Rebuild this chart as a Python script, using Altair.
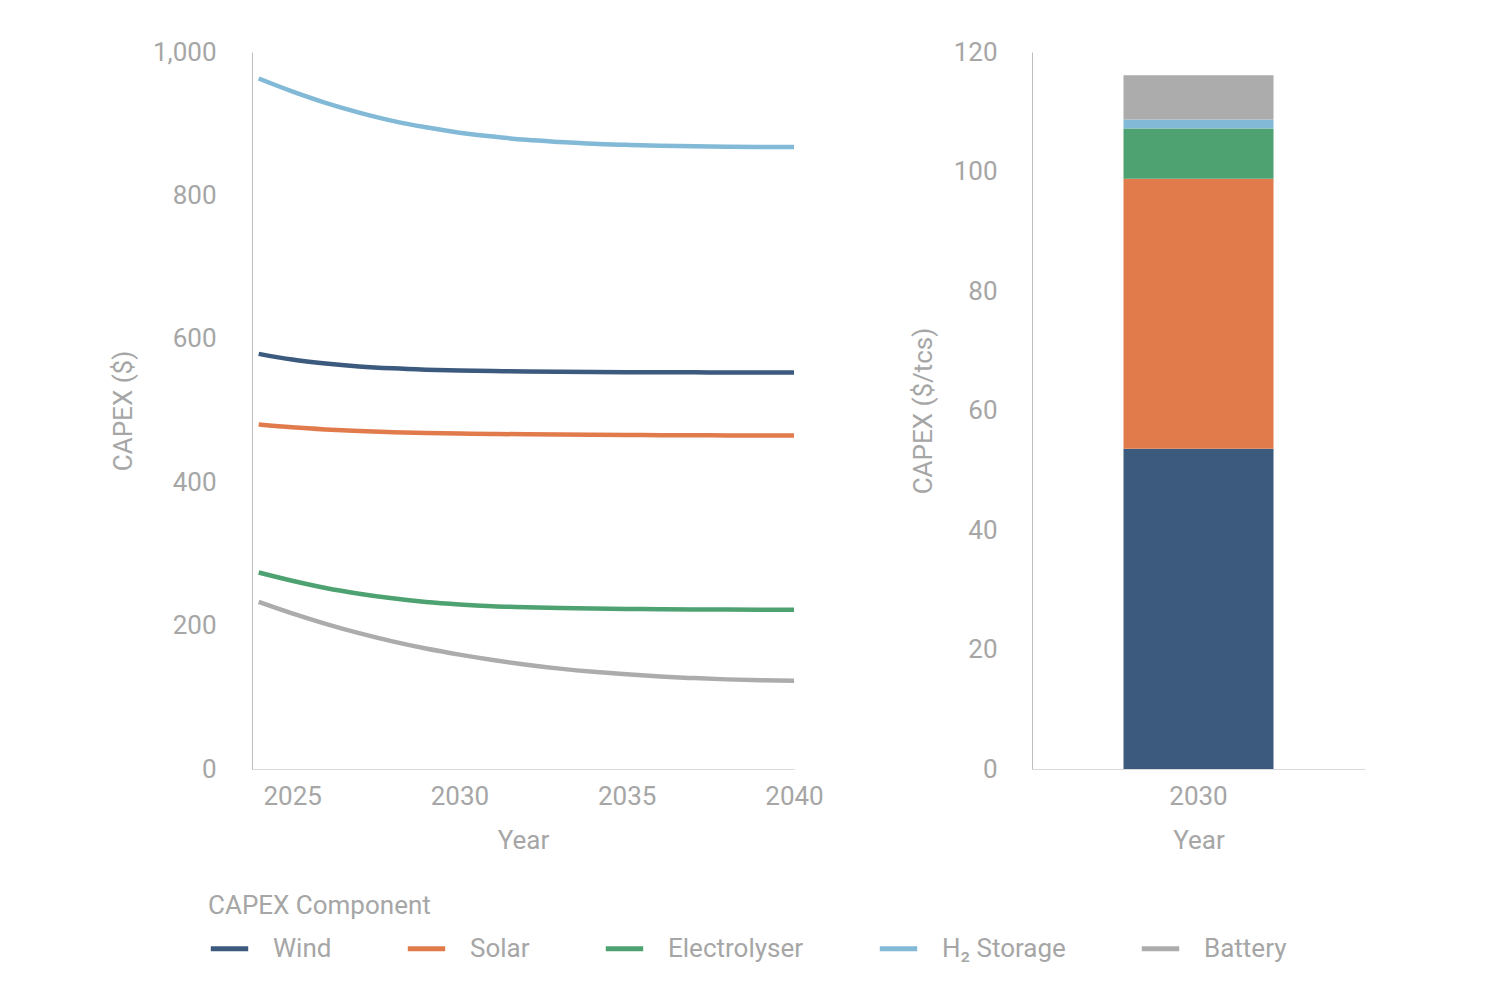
import altair as alt
import pandas as pd

years = list(range(2024, 2041))
components = ["Wind", "Solar", "Electrolyser", "H₂ Storage", "Battery"]
colors = ["#3b5a7d", "#e27b4b", "#4ea271", "#82b9d6", "#acacac"]

wind = [579, 571, 565.5, 561.5, 558.8, 557, 555.8, 555, 554.4, 554, 553.7, 553.5, 553.3, 553.2, 553.1, 553, 553]
solar = [480.5, 476.5, 473.5, 471.3, 469.8, 468.7, 467.9, 467.3, 466.8, 466.4, 466.1, 465.8, 465.6, 465.4, 465.3, 465.1, 465]
electrolyser = [274, 262.5, 252.5, 244.5, 238, 233, 229.5, 227, 225.5, 224.5, 223.8, 223.3, 222.9, 222.6, 222.4, 222.2, 222]
h2_storage = [963, 945, 929, 915.5, 904, 895, 887.5, 882, 877.5, 874.5, 872, 870.5, 869.3, 868.5, 867.9, 867.6, 867.5]
battery = [233, 217, 202.5, 189.5, 178, 168, 159.5, 152, 145.5, 140, 135.5, 132, 129, 126.8, 125, 123.8, 123]

bar_year = "2030"
bar_values = [53.6, 45.2, 8.4, 1.5, 7.4]

series = [wind, solar, electrolyser, h2_storage, battery]
rows = []
for comp, vals in zip(components, series):
    for y, v in zip(years, vals):
        rows.append({"Year": y, "CAPEX": v, "Component": comp})
line_df = pd.DataFrame(rows)

bar_df = pd.DataFrame({
    "Year": [bar_year] * len(components),
    "CAPEX": bar_values,
    "Component": components,
    "order": list(range(len(components))),
})

FONT = "Roboto"
GREY = "#a6a6a6"
FS = 26

color_scale = alt.Scale(domain=components, range=colors)

line = alt.Chart(line_df).mark_line(strokeWidth=4.5, interpolate="monotone").encode(
    x=alt.X("Year:Q", scale=alt.Scale(domain=[2023.8, 2040], nice=False, zero=False),
            axis=alt.Axis(values=[2025, 2030, 2035, 2040], format="d", title="Year",
                          domainColor="#d9d9d9", ticks=False, grid=False, labelFlush=False,
                          labelPadding=14, titlePadding=18)),
    y=alt.Y("CAPEX:Q", scale=alt.Scale(domain=[0, 1000], nice=False),
            axis=alt.Axis(values=[0, 200, 400, 600, 800, 1000], format=",.0f", title="CAPEX ($)",
                          domainColor="#bfbfbf", ticks=False, grid=False,
                          labelPadding=36, titlePadding=16)),
    color=alt.Color("Component:N", scale=color_scale, sort=components,
                    legend=alt.Legend(title="CAPEX Component", orient="none",
                                      direction="horizontal", legendX=-44, legendY=841,
                                      symbolType="stroke", symbolSize=1400,
                                      symbolStrokeWidth=5, columnPadding=65,
                                      labelOffset=22, titlePadding=8,
                                      titleLimit=600, labelLimit=400)),
).properties(width=542, height=717)

bar = alt.Chart(bar_df).mark_bar(size=150).encode(
    x=alt.X("Year:N", axis=alt.Axis(title="Year", labelAngle=0, domainColor="#d9d9d9",
                                    ticks=False, grid=False, labelPadding=14, titlePadding=18)),
    y=alt.Y("CAPEX:Q", stack="zero", scale=alt.Scale(domain=[0, 120], nice=False),
            axis=alt.Axis(values=[0, 20, 40, 60, 80, 100, 120], title="CAPEX ($/tcs)",
                          domainColor="#bfbfbf", ticks=False, grid=False,
                          labelPadding=35, titlePadding=17)),
    color=alt.Color("Component:N", scale=color_scale, legend=None),
    order=alt.Order("order:Q"),
).properties(width=333, height=717)

chart = alt.hconcat(line, bar, spacing=86).properties(
    padding={"left": 102, "top": 31, "right": 5, "bottom": 5}
).configure_view(stroke=None).configure_axis(
    labelFont=FONT, titleFont=FONT, labelColor=GREY, titleColor=GREY,
    labelFontSize=FS, titleFontSize=FS, titleFontWeight="normal",
).configure_legend(
    labelFont=FONT, titleFont=FONT, labelColor=GREY, titleColor=GREY,
    labelFontSize=FS, titleFontSize=FS, titleFontWeight="normal",
)

chart.save("out.html", embed_options={"renderer": "svg", "actions": False})
